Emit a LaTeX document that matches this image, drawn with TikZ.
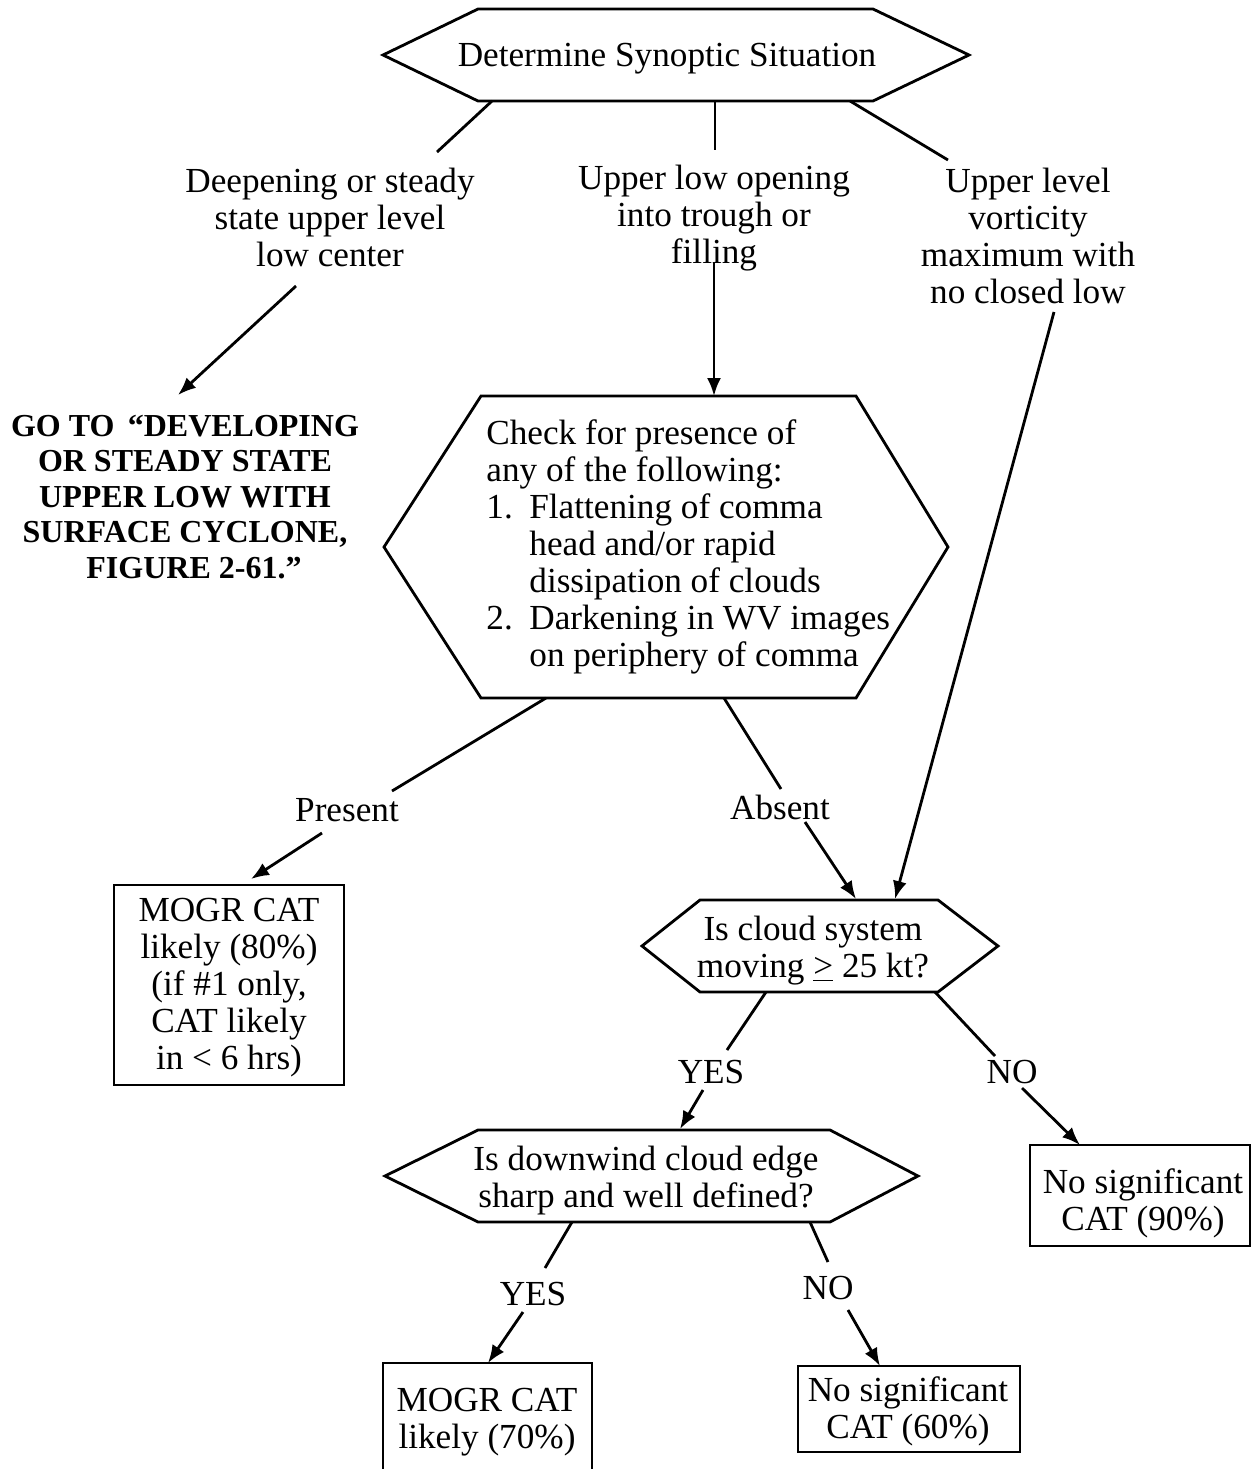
\documentclass[tikz,border=0pt]{standalone}
\usepackage{fontspec}
\setmainfont{Liberation Serif}
\usetikzlibrary{arrows.meta}
\begin{document}
\begin{tikzpicture}[x=0.5pt,y=-0.5pt,
  every node/.style={font=\fontsize{17.6}{18.5}\selectfont, inner sep=0pt},
  hexline/.style={line width=1.4pt, line join=miter},
  conn/.style={line width=1.4pt},
  arr/.style={conn,-{Latex[length=9pt,width=7pt]}},
  boxnode/.style={draw, line width=1.4pt, align=center},
  txt/.style={align=center},
  boldtxt/.style={align=center, font=\fontsize{16}{17.75}\selectfont\bfseries}]
\useasboundingbox (0,0) rectangle (1251,1469);
\clip (0,0) rectangle (1251,1469);

% ---------- hexagons ----------
\draw[hexline] (383,55) -- (478,9) -- (873,9) -- (969,55) -- (873,101) -- (478,101) -- cycle;
\node[txt] (h1) at (667,59) {Determine Synoptic Situation};

\draw[hexline] (384,547) -- (481,396) -- (856,396) -- (948,547) -- (856,698) -- (481,698) -- cycle;
\node[align=left, anchor=west] (h2) at (486,547) {Check for presence of\\
any of the following:\\
\makebox[21.5pt][l]{1.}Flattening of comma\\
\hspace*{21.5pt}head and/or rapid\\
\hspace*{21.5pt}dissipation of clouds\\
\makebox[21.5pt][l]{2.}Darkening in WV images\\
\hspace*{21.5pt}on periphery of comma};

\draw[hexline] (642,946) -- (700,900) -- (938,900) -- (998,946) -- (938,992) -- (700,992) -- cycle;
\node[txt] (h3) at (813,951) {Is cloud system\\moving \underline{>} 25 kt?};

\draw[hexline] (385,1176) -- (478,1130) -- (830,1130) -- (918,1176) -- (830,1222) -- (478,1222) -- cycle;
\node[txt] (h4) at (646,1181) {Is downwind cloud edge\\sharp and well defined?};

% ---------- texts ----------
\node[txt] (t1) at (330,217) {Deepening or steady\\state upper level\\low center};
\node[txt] (t2) at (714,218) {Upper low opening\\into trough or\\filling};
\node[txt] (t3) at (1028,236) {Upper level\\vorticity\\maximum with\\no closed low};
\node[boldtxt] (goto) at (185,497) {GO TO \,“DEVELOPING\\OR STEADY STATE\\UPPER LOW WITH\\SURFACE CYCLONE,\\\hspace*{9pt}FIGURE 2-61.”};

% ---------- boxes ----------
\node[draw, line width=1.4pt, minimum width=115pt, minimum height=100pt] (b80) at (229,985) {};
\node[txt] (b80t) at (229,988) {MOGR CAT\\likely (80\%)\\(if \#1 only,\\CAT likely\\in < 6 hrs)};
\node[draw, line width=1.4pt, minimum width=110pt, minimum height=50.5pt] (b90) at (1140,1195.5) {};
\node[txt] (b90t) at (1143,1203) {No significant\\CAT (90\%)};
\node[draw, line width=1.4pt, minimum width=104.5pt, minimum height=57pt] (b70) at (487.5,1420) {};
\node[txt] (b70t) at (487,1422) {MOGR CAT\\likely (70\%)};
\node[draw, line width=1.4pt, minimum width=111pt, minimum height=43pt] (b60) at (909,1409) {};
\node[txt] (b60t) at (908,1411) {No significant\\CAT (60\%)};

% ---------- labels ----------
\node (present) at (347,810) {Present};
\node (absent) at (780,807) {Absent};
\node (yes1) at (711,1072) {YES};
\node (no1) at (1012,1072) {NO};
\node (yes2) at (533,1294) {YES};
\node (no2) at (828,1288) {NO};

% ---------- connector coordinates ----------
\coordinate (c1a) at (492,101); \coordinate (c1b) at (437,152);
\coordinate (c2a) at (715,101); \coordinate (c2b) at (715,150);
\coordinate (c3a) at (850,101); \coordinate (c3b) at (948,160);
\coordinate (a1a) at (296,286); \coordinate (a1b) at (178,395);
\coordinate (a2a) at (714,262); \coordinate (a2b) at (714,396);
\coordinate (a3a) at (1054,312); \coordinate (a3b) at (895,899);
\coordinate (pa) at (546,698); \coordinate (pb) at (392,791);
\coordinate (pc) at (322,833); \coordinate (pd) at (251,879);
\coordinate (aa) at (724,698); \coordinate (ab) at (781,789);
\coordinate (ac) at (805,822); \coordinate (ad) at (856,899);
\coordinate (y1a) at (766,992); \coordinate (y1b) at (727,1050);
\coordinate (y1c) at (703,1090); \coordinate (y1d) at (680,1129);
\coordinate (n1a) at (935,992); \coordinate (n1b) at (995,1056);
\coordinate (n1c) at (1022,1088); \coordinate (n1d) at (1080,1145);
\coordinate (y2a) at (572,1222); \coordinate (y2b) at (545,1268);
\coordinate (y2c) at (523,1312); \coordinate (y2d) at (488,1363);
\coordinate (n2a) at (810,1222); \coordinate (n2b) at (828,1262);
\coordinate (n2c) at (848,1310); \coordinate (n2d) at (880,1366);

% ---------- connectors ----------
\draw[conn] (c1a) -- (c1b);
\draw[conn] (c2a) -- (c2b);
\draw[conn] (c3a) -- (c3b);
\draw[arr] (a1a) -- (a1b);
\draw[arr] (a2a) -- (a2b);
\draw[arr] (a3a) -- (a3b);
\draw[conn] (pa) -- (pb);
\draw[arr] (pc) -- (pd);
\draw[conn] (aa) -- (ab);
\draw[arr] (ac) -- (ad);
\draw[conn] (y1a) -- (y1b);
\draw[arr] (y1c) -- (y1d);
\draw[conn] (n1a) -- (n1b);
\draw[arr] (n1c) -- (n1d);
\draw[conn] (y2a) -- (y2b);
\draw[arr] (y2c) -- (y2d);
\draw[conn] (n2a) -- (n2b);
\draw[arr] (n2c) -- (n2d);
\end{tikzpicture}
\end{document}
